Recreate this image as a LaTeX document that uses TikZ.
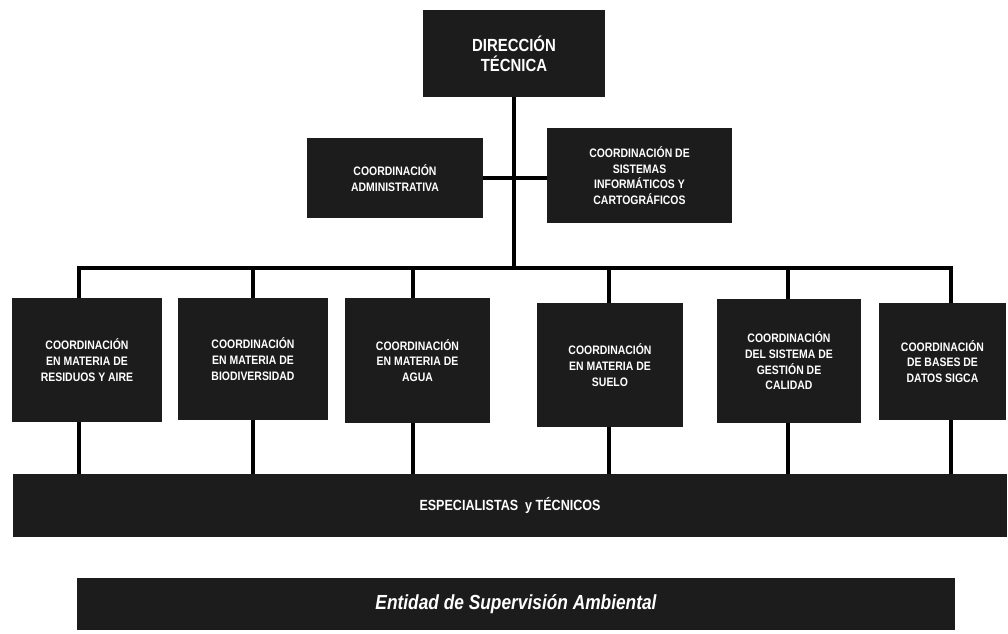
\documentclass[tikz,border=0pt]{standalone}
\usepackage{fontspec}
\newfontfamily\cond[FakeStretch=0.85]{Liberation Sans}
\definecolor{boxfill}{HTML}{1C1C1C}
\tikzset{
  orgbox/.style={fill=boxfill, draw=none, text=white, align=center, inner sep=0pt,
    font=\cond\bfseries\fontsize{7}{8.9}\selectfont},
  conn/.style={draw=black, line width=2.3pt},
}
\begin{document}
\begin{tikzpicture}[x=0.02cm, y=-0.02cm]
\useasboundingbox (0,0) rectangle (1008,633);
% top
\node[orgbox, minimum width=3.64cm, minimum height=1.74cm, font=\cond\bfseries\fontsize{10}{11.5}\selectfont] (dir) at (514,53.5) {DIRECCIÓN\\TÉCNICA};
\node[orgbox, minimum width=3.52cm, minimum height=1.6cm] (adm) at (395,178) {COORDINACIÓN\\ADMINISTRATIVA};
\node[orgbox, minimum width=3.7cm, minimum height=1.9cm] (sis) at (639.5,175.5) {COORDINACIÓN DE\\SISTEMAS\\INFORMÁTICOS Y\\CARTOGRÁFICOS};
% second level
\node[orgbox, minimum width=3.0cm, minimum height=2.48cm] (b1) at (87,360) {COORDINACIÓN\\EN MATERIA DE\\RESIDUOS Y AIRE};
\node[orgbox, minimum width=3.0cm, minimum height=2.44cm] (b2) at (253,359) {COORDINACIÓN\\EN MATERIA DE\\BIODIVERSIDAD};
\node[orgbox, minimum width=2.9cm, minimum height=2.5cm] (b3) at (417.5,360.5) {COORDINACIÓN\\EN MATERIA DE\\AGUA};
\node[orgbox, minimum width=2.92cm, minimum height=2.48cm] (b4) at (610,365) {COORDINACIÓN\\EN MATERIA DE\\SUELO};
\node[orgbox, minimum width=2.88cm, minimum height=2.48cm] (b5) at (789,361) {COORDINACIÓN\\DEL SISTEMA DE\\GESTIÓN DE\\CALIDAD};
\node[orgbox, minimum width=2.54cm, minimum height=2.34cm] (b6) at (942.5,361.5) {COORDINACIÓN\\DE BASES DE\\DATOS SIGCA};
% bottom bars
\node[orgbox, minimum width=19.88cm, minimum height=1.26cm, font=\cond\bfseries\fontsize{8.4}{9}\selectfont] (esp) at (510,505.5) {ESPECIALISTAS~ y TÉCNICOS};
\node[orgbox, minimum width=17.56cm, minimum height=1.04cm, font=\cond\bfseries\itshape\fontsize{11.6}{12}\selectfont] (ent) at (516,604) {Entidad de Supervisión Ambiental};
% bus coordinates
\coordinate (d1) at (79,268);
\coordinate (d2) at (253,268);
\coordinate (d3) at (413,268);
\coordinate (d4) at (609,268);
\coordinate (d5) at (788,268);
\coordinate (d6) at (951,268);
\coordinate (hub) at (514,268);
% connectors
\draw[conn] (dir.south) -- (hub);
\draw[conn] (adm.east) -- (adm.east -| sis.west);
\draw[conn, line cap=rect] (d1) -- (d6);
\foreach \i in {1,...,6}{
  \draw[conn] (d\i) -- (d\i |- b\i.north);
  \draw[conn] (d\i |- b\i.south) -- (d\i |- esp.north);
}
\end{tikzpicture}
\end{document}
